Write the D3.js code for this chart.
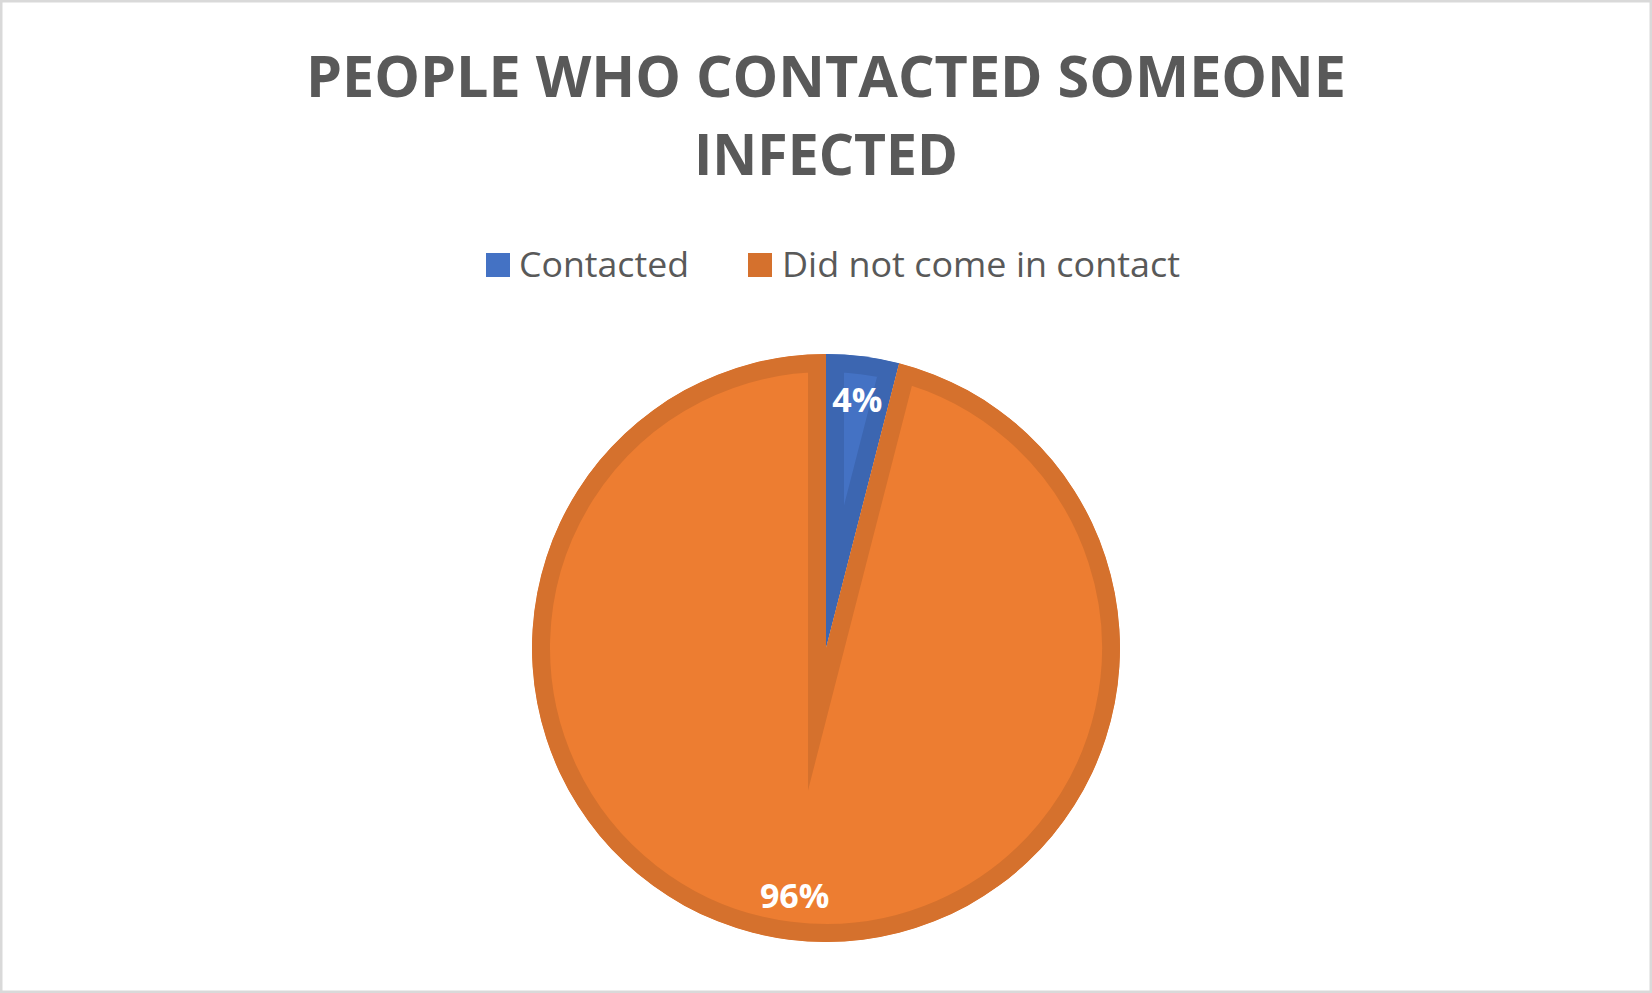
<!DOCTYPE html>
<html>
<head>
<meta charset="utf-8">
<script src="https://cdn.jsdelivr.net/npm/d3@7"></script>
<style>
  html, body { margin: 0; padding: 0; background: #fff; }
  svg { display: block; }
</style>
</head>
<body>
<svg id="chart" width="1652" height="993"></svg>
<script>
// ---- Data ----
const categories = ["Contacted", "Did not come in contact"];
const values = [4, 96];
const labels = ["4%", "96%"];
const fillColors = ["#4472C4", "#ED7D31"];
const edgeColors = ["#3C66B1", "#D5712D"];
const titleLines = ["PEOPLE WHO CONTACTED SOMEONE", "INFECTED"];

// ---- Layout ----
const W = 1652, H = 993;
const cx = 826, cy = 648, R = 294;
const svg = d3.select("#chart");

// frame
svg.append("rect")
  .attr("x", 1.25).attr("y", 1.25)
  .attr("width", W - 2.5).attr("height", H - 2.5)
  .attr("fill", "#fff").attr("stroke", "#D9D9D9").attr("stroke-width", 2.5);

// title
const titleFont = "'Open Sans', 'DejaVu Sans', sans-serif";
const titleSpecs = [{y: 97, len: 1040}, {y: 175, len: 264}];
svg.append("g").selectAll("text").data(titleLines).join("text")
  .attr("x", 826)
  .attr("y", (d, i) => titleSpecs[i].y)
  .attr("text-anchor", "middle")
  .attr("font-family", titleFont)
  .attr("font-weight", 700)
  .attr("font-size", 58)
  .attr("fill", "#595959")
  .attr("textLength", (d, i) => titleSpecs[i].len)
  .attr("lengthAdjust", "spacingAndGlyphs")
  .text(d => d);

// legend
const legendSpecs = [{sx: 486, tx: 519, len: 170}, {sx: 748, tx: 782, len: 398}];
const lg = svg.append("g");
lg.selectAll("rect").data(categories).join("rect")
  .attr("x", (d, i) => legendSpecs[i].sx)
  .attr("y", 253)
  .attr("width", 24).attr("height", 24)
  .attr("fill", (d, i) => i === 0 ? fillColors[0] : edgeColors[1]);
lg.selectAll("text").data(categories).join("text")
  .attr("x", (d, i) => legendSpecs[i].tx)
  .attr("y", 277)
  .attr("font-family", titleFont)
  .attr("font-size", 35)
  .attr("fill", "#595959")
  .attr("textLength", (d, i) => legendSpecs[i].len)
  .attr("lengthAdjust", "spacingAndGlyphs")
  .text(d => d);

// pie
const pie = d3.pie().sort(null).value(d => d);
const arcs = pie(values);
const arc = d3.arc().innerRadius(0).outerRadius(R);
const defs = svg.append("defs");
const g = svg.append("g").attr("transform", `translate(${cx},${cy})`);

arcs.forEach((a, i) => {
  const dPath = arc(a);
  defs.append("clipPath").attr("id", "clip" + i)
    .append("path").attr("d", dPath);
  g.append("path")
    .attr("d", dPath)
    .attr("fill", fillColors[i])
    .attr("stroke", edgeColors[i])
    .attr("stroke-width", 36)
    .attr("stroke-linejoin", "miter")
    .attr("stroke-miterlimit", 20)
    .attr("clip-path", `url(#clip${i})`);
});

// data labels
const labelArc = d3.arc().innerRadius(250).outerRadius(250);
g.selectAll("text.lbl").data(arcs).join("text")
  .attr("class", "lbl")
  .attr("x", d => labelArc.centroid(d)[0])
  .attr("y", d => labelArc.centroid(d)[1])
  .attr("dy", "0.36em")
  .attr("text-anchor", "middle")
  .attr("font-family", titleFont)
  .attr("font-weight", 700)
  .attr("font-size", 34)
  .attr("fill", "#fff")
  .text((d, i) => labels[i]);
</script>
</body>
</html>
